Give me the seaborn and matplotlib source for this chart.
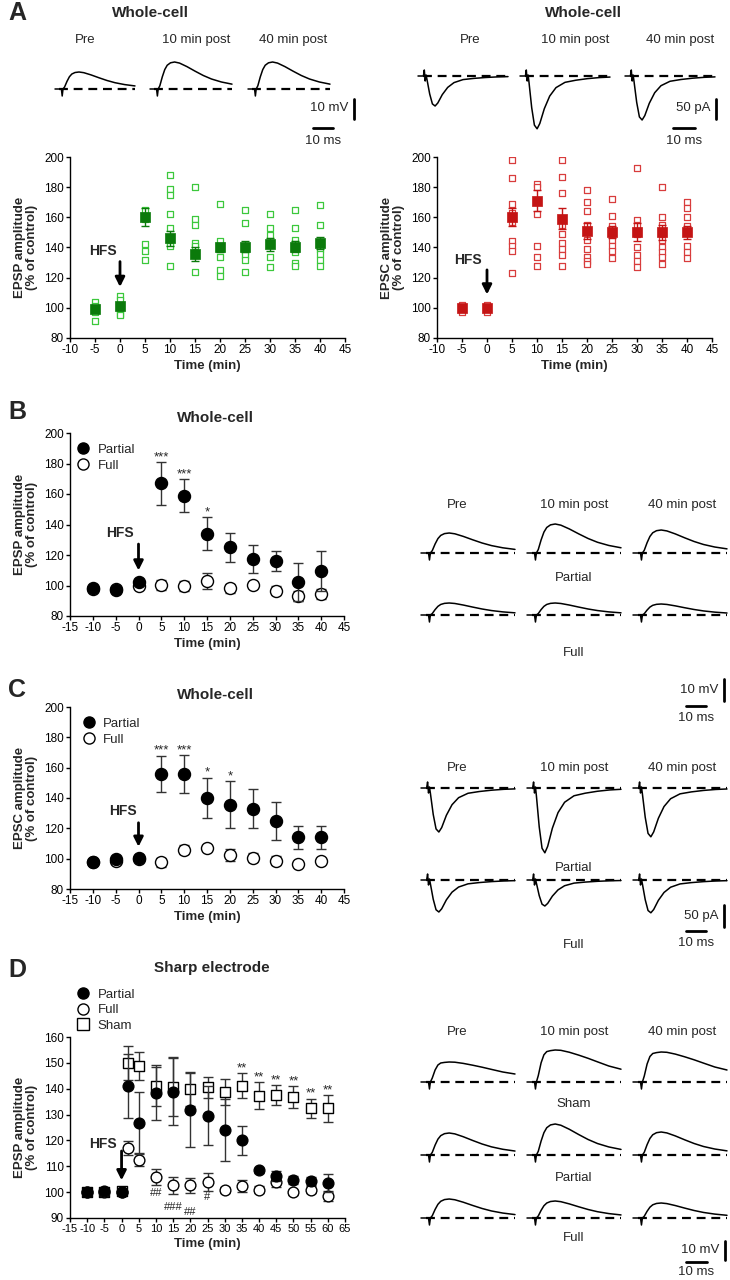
import numpy as np
import pandas as pd
import matplotlib
matplotlib.use("Agg")
import matplotlib.pyplot as plt
from matplotlib.lines import Line2D
import seaborn as sns

# ---------------- data ----------------
time_a = [-5, 0, 5, 10, 15, 20, 25, 30, 35, 40]
epsp_cells = [
    [104, 101, 99, 97, 91],
    [108, 105, 102, 99, 96, 95],
    [165, 161, 159, 142, 138, 132],
    [188, 179, 175, 162, 153, 143, 141, 128],
    [180, 159, 155, 143, 141, 135, 124],
    [169, 144, 139, 134, 125, 121],
    [165, 156, 138, 135, 132, 124],
    [162, 153, 148, 143, 134, 127],
    [165, 153, 145, 142, 137, 130, 128],
    [168, 155, 143, 139, 136, 132, 128],
]
epsp_mean = [99, 101, 160, 146, 135.5, 140, 140.5, 142, 140.5, 143]
epsp_sem = [2, 2, 6, 5, 4.5, 3, 3.5, 4, 3.5, 4]

epsc_cells = [
    [102, 100, 97],
    [102, 99, 97, 100],
    [198, 186, 169, 163, 161, 157, 144, 141, 138, 123],
    [182, 180, 162, 141, 134, 128],
    [198, 187, 176, 155, 149, 143, 139, 135, 128],
    [178, 170, 164, 155, 145, 139, 134, 131, 129],
    [172, 161, 154, 150, 145, 141, 138, 133],
    [193, 158, 155, 149, 140, 135, 131, 127],
    [180, 160, 155, 150, 145, 140, 137, 134, 129],
    [170, 166, 160, 154, 151, 141, 137, 133],
]
epsc_mean = [100, 100, 160, 171, 159, 151, 150, 150, 150, 150]
epsc_sem = [1, 1, 6, 7, 7, 5.5, 4, 6, 5, 4.5]

time_bc = [-10, -5, 0, 5, 10, 15, 20, 25, 30, 35, 40]
b_partial = [98.2, 97, 102.5, 167, 159, 134, 125, 117.5, 116, 102.5, 109.7]
b_partial_sem = [1, 1, 1.5, 14, 11, 11, 9.5, 9, 6.5, 12.5, 13]
b_full = [97.7, 97.5, 99.7, 100.3, 99.7, 103, 98.3, 100.1, 96.6, 93.1, 94.4]
b_full_sem = [1, 1, 1, 3, 3, 5, 3, 2, 3, 3.5, 3]
b_stars = ["", "", "", "***", "***", "*", "", "", "", "", ""]

c_partial = [97.5, 99.5, 100.5, 156, 155.6, 140, 135.6, 133, 124.6, 114, 114]
c_partial_sem = [1, 1, 1, 12, 12.5, 13.5, 15.5, 13, 12.5, 7.5, 7.5]
c_full = [97.5, 98.5, 100, 97.5, 106, 107, 102.5, 100.5, 98.5, 96.5, 98.5]
c_full_sem = [1, 1, 1.5, 3, 3, 2, 4, 3, 3, 1, 1]
c_stars = ["", "", "", "***", "***", "*", "*", "", "", "", ""]

time_d = [-10, -5, 0, 2, 5, 10, 15, 20, 25, 30, 35, 40, 45, 50, 55, 60]
d_sham = [100, 100, 100.5, 150, 148.8, 141, 140.8, 139.7, 140.5, 138.6, 141.2, 137.3, 137.6, 136.7, 132.4, 132.4]
d_sham_sem = [1, 1, 1.5, 6.5, 5.5, 7.5, 11.5, 6.5, 4.2, 5, 4.7, 5.3, 4, 4.2, 3.8, 5.3]
d_partial = [100, 100.3, 100.2, 141, 126.8, 138.5, 138.8, 131.8, 129.6, 124, 120, 108.5, 106.2, 104.6, 104.2, 103.6]
d_partial_sem = [1, 1, 1, 12.5, 12, 10.5, 13, 14.5, 11.5, 12, 5.5, 1, 2, 1.5, 1.5, 3.5]
d_full = [100, 100, 100, 117.2, 112.6, 105.9, 102.7, 102.6, 104, 100.8, 102.3, 101, 104, 100, 101, 98.5]
d_full_sem = [1, 1, 1, 2.7, 2.5, 3.2, 3.3, 3, 3.4, 1, 2.3, 1.5, 2, 1, 1.5, 2]
d_stars = ["", "", "", "", "", "", "", "", "", "", "**", "**", "**", "**", "**", "**"]
d_hash = ["", "", "", "", "", "##", "###", "##", "#", "", "", "", "", "", "", ""]

trace_labels = ["Pre", "10 min post", "40 min post"]
# example trace amplitudes (mV / pA)
a_epsp_amp = [8.5, 13.5, 13.5]
a_epsc_amp = [75, 132, 110]
b_partial_amp = [10, 14.5, 11.5]
b_full_amp = [6, 6, 5.5]
c_partial_amp = [110, 162, 122]
c_full_amp = [80, 65, 82]
d_sham_amp = [10, 16, 15]
d_partial_amp = [11, 15.5, 11.5]
d_full_amp = [9.5, 8.5, 7.5]

# waveform shapes (fraction of sweep, normalised amplitude, artifact in px)
epsp_f = [0, 0.08, 0.09, 0.10, 0.12, 0.15, 0.18, 0.21, 0.25, 0.30, 0.36, 0.45, 0.55, 0.65, 0.75, 0.87, 1.0]
epsp_v = [0, 0, 0, 0, 0.12, 0.45, 0.72, 0.88, 0.97, 1.0, 0.96, 0.83, 0.66, 0.5, 0.37, 0.26, 0.18]
epsp_art = [0, 0, -7, 0, 0, 0, 0, 0, 0, 0, 0, 0, 0, 0, 0, 0, 0]
sham_v = [0, 0, 0, 0, 0.2, 0.6, 0.85, 0.95, 0.98, 1.0, 0.99, 0.93, 0.84, 0.74, 0.63, 0.5, 0.4]
epsc_f = [0, 0.06, 0.07, 0.08, 0.09, 0.10, 0.13, 0.16, 0.19, 0.22, 0.27, 0.33, 0.40, 0.50, 0.62, 0.75, 0.88, 1.0]
epsc_v = [0, 0, 0, 0, 0, -0.12, -0.6, -0.93, -1.0, -0.9, -0.62, -0.38, -0.22, -0.12, -0.08, -0.05, -0.03, -0.02]
epsc_art = [0, 0, 6, -5, 1, 0, 0, 0, 0, 0, 0, 0, 0, 0, 0, 0, 0, 0]

# ---------------- style ----------------
sns.set_theme(style="ticks")
plt.rcParams["font.family"] = ["Liberation Sans", "DejaVu Sans"]
plt.rcParams["axes.linewidth"] = 1.0
plt.rcParams["axes.unicode_minus"] = False

W, H = 730, 1280
fig = plt.figure(figsize=(W / 100, H / 100), dpi=100)
fig.patch.set_facecolor("white")


def px_axes(x0, y0, x1, y1):
    return fig.add_axes([x0 / W, 1 - y1 / H, (x1 - x0) / W, (y1 - y0) / H])


def style_ax(ax, xlim, ylim, xticks, yticks, ylabel, xsize=8.5):
    ax.set_xlim(*xlim)
    ax.set_ylim(*ylim)
    ax.set_xticks(xticks)
    ax.set_yticks(yticks)
    ax.tick_params(labelsize=8.5, length=3, width=1, pad=1.5, colors="black")
    ax.tick_params(axis="x", labelsize=xsize)
    for s in ["top", "right"]:
        ax.spines[s].set_visible(False)
    for s in ["left", "bottom"]:
        ax.spines[s].set_color("black")
    ax.set_xlabel("Time (min)", fontsize=9.5, fontweight="bold", labelpad=3)
    ax.set_ylabel(ylabel, fontsize=9.5, fontweight="bold", labelpad=4, linespacing=1.0)


def hfs(ax, tx, ty, y0, y1):
    ax.text(tx, ty, "HFS", fontsize=10, fontweight="bold", ha="center", va="center")
    ax.annotate("", xy=(0, y1), xytext=(0, y0),
                arrowprops=dict(arrowstyle="-|>", lw=2, color="black", mutation_scale=14))


def scatter_cells(ax, cells, mean, sem, light, dark):
    df = pd.DataFrame([(t, v) for t, vals in zip(time_a, cells) for v in vals],
                      columns=["time", "value"])
    sns.scatterplot(data=df, x="time", y="value", ax=ax, marker="s", s=22,
                    facecolor="white", edgecolor=light, linewidth=0.9, zorder=3)
    ax.errorbar(time_a, mean, yerr=sem, fmt="none", ecolor=dark, elinewidth=1,
                capsize=3, capthick=1, zorder=4)
    sns.scatterplot(x=time_a, y=mean, ax=ax, marker="s", s=45, color=dark,
                    edgecolor=dark, linewidth=0.5, zorder=5)


def group(ax, t, mean, sem, marker, face, s, z):
    ax.errorbar(t, mean, yerr=sem, fmt="none", ecolor="#333333", elinewidth=1,
                capsize=3.5, capthick=1, zorder=z)
    sns.scatterplot(x=t, y=mean, ax=ax, marker=marker, s=s, facecolor=face,
                    edgecolor="black", linewidth=1, zorder=z + 0.5)


def stars(ax, t, mean, sem, labels):
    for x, m, e, lab in zip(t, mean, sem, labels):
        if lab:
            ax.annotate(lab, (x, m + e), xytext=(0, -1), textcoords="offset points",
                        ha="center", va="bottom", fontsize=9.5)


def legend(ax, entries, anchor, loc):
    handles = [Line2D([], [], ls="none", marker=m, markersize=8, markerfacecolor=f,
                      markeredgecolor="black", markeredgewidth=1) for m, f, _ in entries]
    ax.legend(handles, [lab for _, _, lab in entries], loc=loc, bbox_to_anchor=anchor,
              frameon=False, fontsize=9.5, handletextpad=0.5, labelspacing=0.25,
              borderaxespad=0, handlelength=1.2)


# ---------------- panel A ----------------
axA1 = px_axes(70, 157, 345, 338)
scatter_cells(axA1, epsp_cells, epsp_mean, epsp_sem, "#3cc83c", "#0b7a0b")
style_ax(axA1, (-10, 45), (80, 200), range(-10, 46, 5), range(80, 201, 20),
         "EPSP amplitude\n(% of control)")
hfs(axA1, -3.5, 137.5, 132.5, 112)

axA2 = px_axes(437, 157, 712, 338)
scatter_cells(axA2, epsc_cells, epsc_mean, epsc_sem, "#d83c3c", "#c41414")
style_ax(axA2, (-10, 45), (80, 200), range(-10, 46, 5), range(80, 201, 20),
         "EPSC amplitude\n(% of control)")
hfs(axA2, -3.9, 132, 127, 107)

# ---------------- panel B ----------------
axB = px_axes(70, 433, 344, 616)
group(axB, time_bc, b_full, b_full_sem, "o", "white", 75, 3)
group(axB, time_bc, b_partial, b_partial_sem, "o", "black", 75, 4)
stars(axB, time_bc, b_partial, b_partial_sem, b_stars)
style_ax(axB, (-15, 45), (80, 200), range(-15, 46, 5), range(80, 201, 20),
         "EPSP amplitude\n(% of control)")
hfs(axB, -4, 134.6, 129, 108)
legend(axB, [("o", "black", "Partial"), ("o", "white", "Full")], (0.0, 0.97), "upper left")

# ---------------- panel C ----------------
axC = px_axes(70, 707, 344, 889)
group(axC, time_bc, c_full, c_full_sem, "o", "white", 75, 3)
group(axC, time_bc, c_partial, c_partial_sem, "o", "black", 75, 4)
stars(axC, time_bc, c_partial, c_partial_sem, c_stars)
style_ax(axC, (-15, 45), (80, 200), range(-15, 46, 5), range(80, 201, 20),
         "EPSC amplitude\n(% of control)")
hfs(axC, -3.4, 131.6, 125.5, 106)
legend(axC, [("o", "black", "Partial"), ("o", "white", "Full")], (0.02, 0.97), "upper left")

# ---------------- panel D ----------------
axD = px_axes(70, 1037, 345, 1218)
group(axD, time_d, d_sham, d_sham_sem, "s", "white", 60, 2)
group(axD, time_d, d_full, d_full_sem, "o", "white", 60, 3)
group(axD, time_d, d_partial, d_partial_sem, "o", "black", 60, 4)
stars(axD, time_d, d_sham, d_sham_sem, d_stars)
hash_drop = {10: 2, 15: 6, 20: 10, 25: 1}
for x, m, e, lab in zip(time_d, d_full, d_full_sem, d_hash):
    if lab:
        axD.annotate(lab, (x, m - e), xytext=(0, -hash_drop[x]), textcoords="offset points",
                     ha="center", va="top", fontsize=8)
style_ax(axD, (-15, 65), (90, 160), range(-15, 66, 5), range(90, 161, 10),
         "EPSP amplitude\n(% of control)", xsize=8)
hfs(axD, -5.4, 118.7, 117, 103.5)
legend(axD, [("o", "black", "Partial"), ("o", "white", "Full"), ("s", "white", "Sham")],
       (0.0, 1.0), "lower left")

# ---------------- overlay: letters, titles, example traces ----------------
ov = fig.add_axes([0, 0, 1, 1])
ov.set_xlim(0, W)
ov.set_ylim(H, 0)
ov.axis("off")

for lab, x, y in [("A", 8, 13), ("B", 8, 412), ("C", 8, 690), ("D", 8, 970)]:
    ov.text(x, y, lab, fontsize=18, fontweight="bold", ha="left", va="center")
for lab, x, y in [("Whole-cell", 150, 13), ("Whole-cell", 583, 13), ("Whole-cell", 215, 418),
                  ("Whole-cell", 215, 695), ("Sharp electrode", 212, 968)]:
    ov.text(x, y, lab, fontsize=11, fontweight="bold", ha="center", va="center")

MV_PX, PA_PX = 2.0, 0.4


def traces(xs, base, amps, scale, f, v, art, labels_y=None, label_xs=None):
    for (x0, x1), amp in zip(xs, amps):
        px = x0 + np.asarray(f) * (x1 - x0)
        py = base - amp * scale * np.asarray(v) - np.asarray(art)
        ov.plot([x0 + 0.05 * (x1 - x0), x1], [base, base], color="black", lw=1.6,
                ls=(0, (4, 2.6)))
        ov.plot(px, py, color="black", lw=1.1)
    if labels_y is not None:
        for lx, lab in zip(label_xs, trace_labels):
            ov.text(lx, labels_y, lab, fontsize=9.5, ha="center", va="center")


def scalebar(x_bar, y_top, y_bot, hx0, hx1, hy, vlabel, vy, ty):
    ov.plot([x_bar, x_bar], [y_top, y_bot], color="black", lw=2)
    ov.plot([hx0, hx1], [hy, hy], color="black", lw=2)
    ov.text(x_bar - 6, vy, vlabel, fontsize=9.5, ha="right", va="center")
    ov.text((hx0 + hx1) / 2, ty, "10 ms", fontsize=9.5, ha="center", va="center")


# A traces
xa_l = [(55, 135), (150, 232), (248, 330)]
traces(xa_l, 89, a_epsp_amp, MV_PX, epsp_f, epsp_v, epsp_art, 40, [85, 196, 293])
scalebar(354, 99, 119, 313, 333, 128, "10 mV", 108, 141)
xa_r = [(418, 508), (520, 610), (625, 715)]
traces(xa_r, 76, a_epsc_amp, PA_PX, epsc_f, epsc_v, epsc_art, 40, [470, 575, 680])
scalebar(716, 99, 119, 673, 695, 128, "50 pA", 108, 141)

x_r = [(421, 515), (527, 621), (633, 727)]
lx_r = [457, 574, 682]
# B traces
traces(x_r, 553, b_partial_amp, MV_PX, epsp_f, epsp_v, epsp_art, 505, lx_r)
traces(x_r, 615, b_full_amp, MV_PX, epsp_f, epsp_v, epsp_art)
ov.text(574, 578, "Partial", fontsize=9.5, ha="center", va="center")
ov.text(574, 653, "Full", fontsize=9.5, ha="center", va="center")
scalebar(724, 679, 701, 686, 706, 706, "10 mV", 690, 718)

# C traces
traces(x_r, 788, c_partial_amp, PA_PX, epsc_f, epsc_v, epsc_art, 768, lx_r)
traces(x_r, 880, c_full_amp, PA_PX, epsc_f, epsc_v, epsc_art)
ov.text(574, 868, "Partial", fontsize=9.5, ha="center", va="center")
ov.text(574, 945, "Full", fontsize=9.5, ha="center", va="center")
scalebar(724, 905, 927, 686, 706, 931, "50 pA", 916, 943)

# D traces
traces(x_r, 1082, d_sham_amp, MV_PX, epsp_f, sham_v, epsp_art, 1032, lx_r)
traces(x_r, 1155, d_partial_amp, MV_PX, epsp_f, epsp_v, epsp_art)
traces(x_r, 1218, d_full_amp, MV_PX, epsp_f, epsp_v, epsp_art)
ov.text(574, 1104, "Sham", fontsize=9.5, ha="center", va="center")
ov.text(574, 1178, "Partial", fontsize=9.5, ha="center", va="center")
ov.text(574, 1238, "Full", fontsize=9.5, ha="center", va="center")
scalebar(725, 1241, 1260, 686, 707, 1262, "10 mV", 1250, 1272)

fig.savefig("out.png", dpi=100, facecolor="white")
